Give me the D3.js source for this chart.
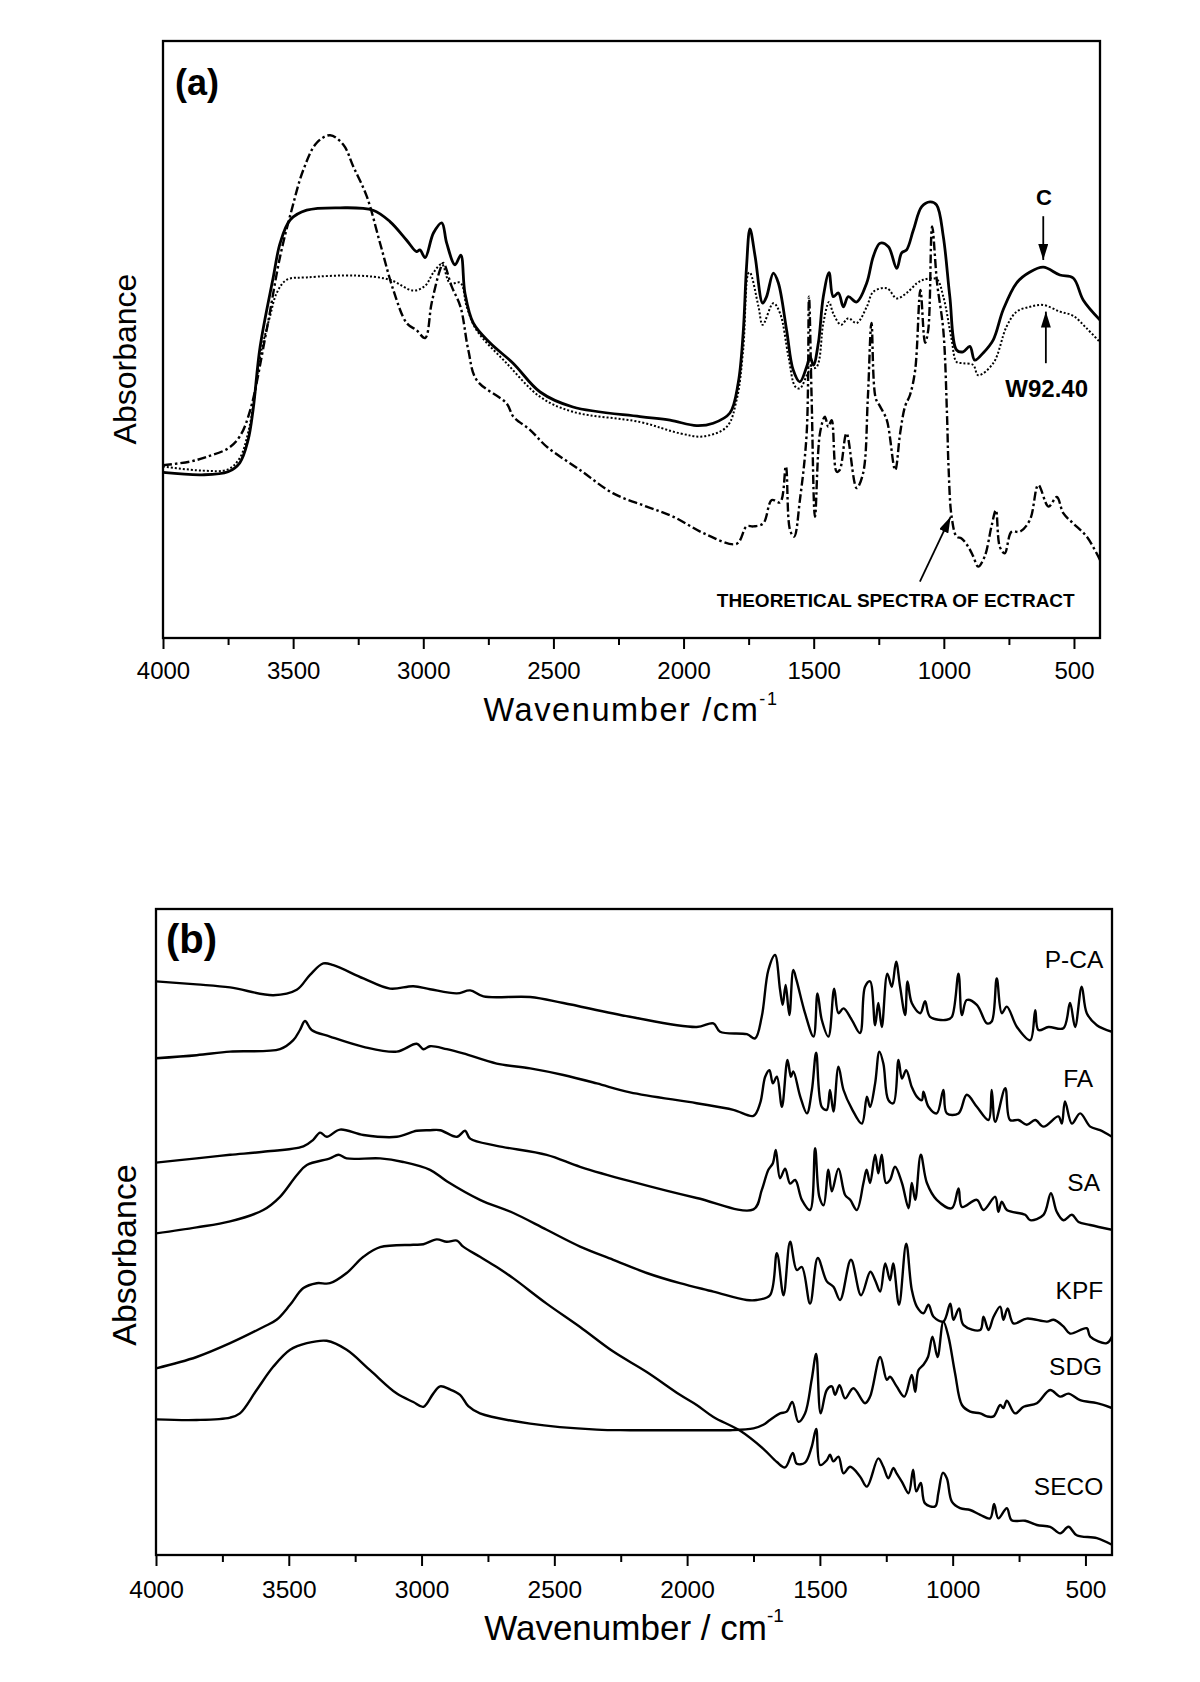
<!DOCTYPE html>
<html>
<head>
<meta charset="utf-8">
<script src="https://cdn.jsdelivr.net/npm/d3@7"></script>
<style>
  body { margin: 0; background: #fff; }
  svg { display: block; }
  text { font-family: Arial, "Liberation Sans", Helvetica, sans-serif; fill: #000; }
</style>
</head>
<body>
<svg id="chart" width="1200" height="1682"></svg>
<script>
// ---------- axis ticks ----------
const majorTicks = [4000, 3500, 3000, 2500, 2000, 1500, 1000, 500];
const minorTicks = [3750, 3250, 2750, 2250, 1750, 1250, 750];

// ---------- panel (a): [wavenumber, absorbance (a.u.)] ----------
const specC = [[4000,27.6],[3850,27.2],[3750,27.7],[3705,29.2],[3673,33],[3654,38],[3627,48.5],[3576,60.2],[3550,65.8],[3511,69.7],[3448,71.3],[3320,71.7],[3193,71.3],[3128,69.4],[3064,66.3],[3026,64.4],[3013,64.7],[2993,63.4],[2961,67.5],[2929,69.2],[2910,65.8],[2878,62.2],[2856,63.8],[2840,57.5],[2808,52.5],[2744,49.2],[2655,45.8],[2551,41],[2425,38.5],[2167,36.9],[2052,36.3],[1950,35.4],[1886,35.8],[1822,37.5],[1790,42.5],[1771,50.8],[1758,61.9],[1745,68.2],[1725,63.6],[1696,55.8],[1681,56.9],[1655,60.8],[1636,59.2],[1604,51.3],[1579,44.7],[1553,42.7],[1527,45.2],[1514,46.9],[1501,45.5],[1482,49.2],[1463,56.9],[1441,60.9],[1425,56.9],[1405,57.5],[1386,55.2],[1367,56.9],[1335,56],[1296,59.2],[1271,63.6],[1245,65.8],[1213,65.2],[1181,61.6],[1162,64.2],[1143,64.7],[1117,68],[1085,71.9],[1053,72.7],[1028,72.2],[1002,66.9],[977,56.9],[951,48],[926,47.7],[900,48.6],[881,46.3],[849,47.5],[810,49.7],[772,54.7],[720,59.2],[669,61],[618,61.8],[554,60.5],[503,60],[464,56.3],[400,53]];

const specW9240 = [[4000,28.6],[3850,27.9],[3750,28.1],[3705,30],[3673,34.2],[3650,39.7],[3627,46.9],[3589,53.6],[3563,57.5],[3525,59.7],[3448,60.1],[3256,60.4],[3128,59.7],[3038,57.9],[2993,58.7],[2961,60.9],[2929,62.3],[2897,59.1],[2857,59.2],[2833,55.2],[2795,51.3],[2680,45.8],[2551,40.2],[2425,37.7],[2167,36],[2013,34.1],[1924,33.6],[1834,35.2],[1796,39.7],[1771,48],[1751,60.8],[1745,60.9],[1712,55.2],[1696,52.2],[1655,55.8],[1629,54.1],[1597,46.9],[1571,41.9],[1553,41.6],[1514,44.7],[1488,45.2],[1463,52.5],[1441,56],[1425,54.1],[1395,52.2],[1367,53.3],[1335,52.5],[1296,55.2],[1271,57.7],[1219,58.3],[1181,56.6],[1143,57.5],[1104,59.1],[1079,59.7],[1028,59.8],[1002,56.9],[970,49.7],[951,46],[926,45.8],[887,45.5],[868,43.8],[810,45.8],[759,51.9],[720,54.4],[669,55.2],[618,55.5],[554,54.4],[503,53.7],[451,51.6],[400,49.3]];

const specTheo = [[4000,28.8],[3896,29.4],[3832,30.2],[3750,31.6],[3705,33.6],[3666,37.8],[3602,51.3],[3550,63.6],[3506,71.3],[3461,78],[3410,82.5],[3358,83.8],[3307,82.2],[3269,78.6],[3217,73.6],[3166,65.8],[3115,58],[3064,52.5],[3026,51.3],[2993,50],[2968,55.8],[2936,61.3],[2923,62.5],[2891,58.6],[2857,55.2],[2827,48],[2795,43],[2680,39.1],[2654,36.9],[2590,34.7],[2526,31.9],[2398,28],[2270,24.1],[2142,21.9],[2039,20.2],[1910,17.2],[1796,15.7],[1758,18.6],[1732,18.6],[1694,19.1],[1661,23],[1629,22.6],[1607,28.6],[1591,18],[1575,16.9],[1553,23],[1527,34.1],[1518,56.9],[1508,40],[1495,20.2],[1476,34.1],[1457,36.9],[1444,35.2],[1431,36.3],[1412,27.7],[1400,28],[1374,34.1],[1335,25],[1310,27.5],[1292,40],[1278,52.5],[1262,40],[1245,38.6],[1219,36.3],[1187,28],[1168,34.1],[1149,38.6],[1130,40.5],[1110,44.7],[1090,58],[1072,49.2],[1060,51.3],[1045,68.6],[1026,59.2],[1002,51.3],[988,37.5],[982,28.6],[970,20.2],[951,16.9],[932,16.6],[906,15.2],[887,13.6],[868,11.9],[843,13.6],[817,18.6],[800,21.3],[785,15.2],[766,14.1],[740,17.7],[708,17.7],[669,19.7],[637,25.5],[598,21.9],[566,23.5],[541,20.8],[503,19.1],[451,16.9],[400,13]];

// ---------- panel (b): [wavenumber, absorbance (a.u., offset)] ----------
const specPCA = [[4000,95.6],[3847,95.1],[3721,94.6],[3558,93.3],[3470,94.2],[3420,96.7],[3370,98.6],[3332,98.3],[3219,96.1],[3119,94.4],[3031,94.8],[2968,94.3],[2867,93.6],[2817,94.1],[2767,93.1],[2591,93],[2466,92],[2215,89.7],[1964,88],[1901,88.6],[1876,87.2],[1775,86.8],[1744,86.1],[1719,89.7],[1694,97.5],[1669,100],[1650,94.2],[1640,91.7],[1629,95],[1615,90],[1600,97.5],[1588,95.8],[1556,90.3],[1524,86.4],[1509,93.6],[1493,89.2],[1468,86.4],[1446,94.4],[1430,90.3],[1411,91.1],[1380,89.2],[1349,87],[1330,94.7],[1311,95.6],[1292,88.3],[1280,92],[1267,88],[1246,96.9],[1229,94.7],[1213,98.9],[1198,94.7],[1179,90],[1170,95.6],[1154,92],[1122,90.3],[1104,92.3],[1085,89.7],[1022,89.2],[1003,89.7],[978,96.9],[965,90],[947,92.5],[909,91.7],[871,88.6],[853,88.9],[834,96.1],[815,90.3],[796,91.4],[758,88],[708,85.8],[689,90.8],[677,87.5],[639,88],[583,87.8],[558,92],[539,88],[514,94.7],[495,90.3],[457,88.3],[400,87.2]];

const specFA = [[4000,82.8],[3847,83.3],[3721,83.9],[3533,84.3],[3483,85.8],[3458,87.5],[3439,89],[3414,87.5],[3345,86.4],[3219,84.7],[3093,83.9],[3018,85.2],[2993,84.3],[2968,84.8],[2905,84.3],[2843,83.6],[2717,81.9],[2591,81.1],[2466,80],[2340,78.6],[2215,77.1],[1964,75.3],[1826,74.2],[1750,73.2],[1725,75.3],[1706,79.7],[1690,80.8],[1677,78.6],[1662,79.7],[1643,74.7],[1622,82.5],[1609,79.7],[1600,80.6],[1574,76.4],[1549,73.6],[1530,77.5],[1514,83.7],[1493,74.7],[1474,74.2],[1462,77.5],[1449,73.9],[1430,81.4],[1411,77.5],[1380,74.4],[1342,71.9],[1323,76.4],[1311,74.7],[1292,78.6],[1276,83.9],[1261,81.9],[1242,75.8],[1223,75.3],[1204,82.5],[1191,79.4],[1175,80.8],[1154,78],[1135,76.4],[1116,75.8],[1110,77.2],[1091,74.7],[1060,73.6],[1035,77.5],[1022,73.6],[978,73.6],[947,76.7],[909,74.7],[865,72.5],[853,77.5],[840,72.2],[802,77.8],[784,72.5],[752,72.5],[721,71.7],[689,72.5],[658,71.4],[602,73.1],[589,71.9],[577,75.6],[551,71.9],[520,73.6],[482,71.4],[445,70.8],[400,69.7]];

const specSA = [[4000,65.4],[3847,66.1],[3721,66.7],[3596,67.2],[3445,68.1],[3408,69.2],[3382,70.4],[3357,69.7],[3307,70.9],[3219,70],[3093,69.7],[3018,70.7],[2968,70.8],[2930,70.8],[2867,69.7],[2836,70.7],[2817,69.4],[2717,68.2],[2529,66.7],[2403,64.7],[2215,62.3],[1964,59.5],[1750,57.6],[1719,60.8],[1694,64.2],[1677,65.3],[1666,67.5],[1650,62.8],[1631,64.4],[1612,61.9],[1593,62.5],[1568,59.2],[1537,57.5],[1518,67.8],[1502,59.7],[1486,58.3],[1468,64.2],[1455,60.6],[1430,64.4],[1405,60],[1386,59.2],[1361,57.5],[1336,62],[1324,64.2],[1311,62],[1292,66.7],[1280,63.6],[1267,66.7],[1251,62],[1236,62.5],[1217,64.7],[1191,62],[1166,57.8],[1154,62],[1141,59.2],[1120,66.7],[1097,62],[1060,59.2],[1003,57.8],[978,61.1],[965,58],[909,59.2],[884,57.5],[840,59.7],[828,57.2],[815,58.9],[796,57.5],[727,56.7],[708,55.8],[658,56.7],[630,60.3],[608,57.2],[583,55.8],[551,56.7],[526,55.5],[482,55],[400,54.2]];

const specKPF = [[4000,53.6],[3847,54.6],[3721,55.6],[3596,57.5],[3533,59.7],[3470,63.3],[3432,65],[3345,66.1],[3313,66.7],[3282,66.1],[3156,66.1],[3069,65.5],[2968,64.2],[2905,62.3],[2780,59.2],[2654,57],[2529,54.2],[2403,51.4],[2278,49.2],[2152,47],[2027,45.3],[1901,43.9],[1776,42.5],[1738,42.5],[1688,43.3],[1662,50.3],[1637,43.3],[1612,52.2],[1587,47.5],[1568,48],[1537,41.9],[1508,49.5],[1474,45.6],[1449,44.7],[1424,42.5],[1383,49.2],[1345,43.3],[1310,47.2],[1292,45.8],[1273,43.9],[1254,48.6],[1236,45.8],[1224,48.6],[1202,41.7],[1175,51.9],[1154,44.2],[1135,41.4],[1110,40.3],[1091,41.7],[1072,39.7],[1035,38.9],[1009,41.9],[997,39.2],[976,41.1],[959,38.3],[896,37.5],[884,39.7],[865,37.5],[846,39.7],[821,41.4],[809,39.2],[793,41.1],[771,38.6],[721,39.4],[645,38.9],[620,39.2],[583,38.1],[558,36.9],[495,37.8],[482,36.4],[420,35.3],[400,36.4]];

const specSDG = [[4000,22.6],[3847,22.5],[3721,22.9],[3684,23.6],[3621,27.5],[3558,31.4],[3495,34.2],[3432,35.3],[3357,35.7],[3282,34.2],[3194,30.8],[3093,26.9],[3031,25.5],[2993,24.7],[2956,26.9],[2930,28.1],[2893,27.6],[2855,26.7],[2824,24.8],[2780,23.6],[2591,21.9],[2340,20.9],[2215,20.8],[1901,20.8],[1838,20.8],[1750,21.1],[1713,21.7],[1688,22.5],[1650,23.6],[1625,23.9],[1604,25.5],[1581,22.2],[1556,23.6],[1531,29.2],[1514,33.5],[1497,23.6],[1474,27.5],[1455,28.1],[1443,26.7],[1426,28.3],[1405,26.1],[1374,27.8],[1330,25.3],[1311,26.4],[1273,33],[1248,29.2],[1236,29.7],[1211,28.1],[1182,26.4],[1154,30],[1141,27.2],[1129,30.8],[1110,31.7],[1093,33],[1076,36.4],[1057,33],[1035,38.9],[1016,36.4],[991,30.3],[965,25],[934,23.9],[896,23.6],[871,23.1],[846,23.1],[821,25],[809,24.5],[796,25.7],[765,23.6],[733,24.7],[683,25.3],[633,27.5],[595,26.4],[564,26.9],[520,25.8],[457,25.3],[400,24.5]];

const specSECO = [[4000,31.1],[3847,33],[3721,35.3],[3596,38],[3546,39.2],[3495,41.7],[3445,44.5],[3395,45.3],[3345,45.3],[3282,47],[3219,49.7],[3156,51.3],[3031,51.7],[2993,51.8],[2943,52.6],[2905,52.2],[2867,52.4],[2843,51.4],[2780,49.7],[2717,48],[2654,46.1],[2529,41.9],[2403,38],[2278,33.9],[2152,30.5],[2027,26.7],[1964,25],[1901,23],[1800,20.7],[1713,17.7],[1662,15.5],[1631,14.6],[1602,17],[1587,15.2],[1556,15.4],[1531,18],[1514,21],[1499,15],[1474,15.8],[1462,16.7],[1449,15.6],[1430,16.4],[1411,13.6],[1386,14.7],[1349,13.1],[1323,11.4],[1280,16.1],[1261,14.7],[1242,12.8],[1223,14.5],[1211,13.6],[1191,12.2],[1166,10.3],[1149,14.2],[1137,10.6],[1120,12],[1104,8.6],[1066,8.1],[1054,10.3],[1037,13.7],[1022,12.8],[1003,8.9],[972,7.8],[934,7.5],[896,6.7],[859,6.1],[844,8.5],[828,6.1],[796,7.8],[778,5.8],[727,5.7],[683,5],[633,4.7],[595,3.6],[564,4.7],[533,3.3],[457,2.8],[400,1.7]];

const labelsB = ["P-CA", "FA", "SA", "KPF", "SDG", "SECO"];
const labelYB = [97.8, 78.0, 60.7, 42.7, 30.0, 10.0];   // label baselines (a.u.)
const labelXB = [433, 471, 445, 433, 437, 433];        // right edge (cm-1)

// ---------- drawing ----------
const svg = d3.select("#chart");
const font = 'Arial, "Liberation Sans", Helvetica, sans-serif';

function panel(cfg) {
  const x = d3.scaleLinear().domain([4000, 400]).range([cfg.left, cfg.right]);
  const y = d3.scaleLinear().domain([0, (cfg.bottom - cfg.top) / 6]).range([cfg.bottom, cfg.top]);
  const g = svg.append("g");
  const clipId = "clip" + cfg.id;
  svg.append("clipPath").attr("id", clipId).append("rect")
    .attr("x", cfg.left).attr("y", cfg.top)
    .attr("width", cfg.right - cfg.left).attr("height", cfg.bottom - cfg.top);

  const ax = d3.axisBottom(x).tickValues(majorTicks).tickSize(11)
    .tickPadding(cfg.tickPad).tickFormat(d3.format("d"));
  const axG = g.append("g").attr("transform", `translate(0,${cfg.bottom})`).call(ax);
  axG.select(".domain").remove();
  axG.selectAll(".tick line").attr("stroke", "#000").attr("stroke-width", 2);
  axG.selectAll(".tick text").attr("font-family", font).attr("font-size", cfg.tickFont).attr("fill", "#000");
  const mG = g.append("g").attr("transform", `translate(0,${cfg.bottom})`)
    .call(d3.axisBottom(x).tickValues(minorTicks).tickSize(7).tickFormat(""));
  mG.select(".domain").remove();
  mG.selectAll(".tick line").attr("stroke", "#000").attr("stroke-width", 2);

  g.append("rect").attr("x", cfg.left).attr("y", cfg.top)
    .attr("width", cfg.right - cfg.left).attr("height", cfg.bottom - cfg.top)
    .attr("fill", "none").attr("stroke", "#000").attr("stroke-width", 2.3);

  const line = d3.line().x(d => x(d[0])).y(d => y(d[1])).curve(d3.curveCatmullRom.alpha(0.5));
  const lines = g.append("g").attr("clip-path", `url(#${clipId})`);
  return { x, y, g, line, lines };
}

// ===== panel (a) =====
const A = panel({ id: "a", left: 163, right: 1100, top: 41, bottom: 638, tickPad: 13, tickFont: 24 });
A.lines.append("path").datum(specTheo).attr("d", A.line)
  .attr("fill", "none").attr("stroke", "#000").attr("stroke-width", 2.4)
  .attr("stroke-dasharray", "9,3,2.5,3");
A.lines.append("path").datum(specW9240).attr("d", A.line)
  .attr("fill", "none").attr("stroke", "#000").attr("stroke-width", 2)
  .attr("stroke-dasharray", "2,2");
A.lines.append("path").datum(specC).attr("d", A.line)
  .attr("fill", "none").attr("stroke", "#000").attr("stroke-width", 2.8)
  .attr("stroke-linejoin", "round");

const defs = svg.append("defs");
defs.append("marker").attr("id", "arrow").attr("viewBox", "0 0 16 10")
  .attr("refX", 16).attr("refY", 5).attr("markerWidth", 16).attr("markerHeight", 10)
  .attr("markerUnits", "userSpaceOnUse").attr("orient", "auto")
  .append("path").attr("d", "M0,0 L16,5 L0,10 Z").attr("fill", "#000");

A.g.append("text").attr("x", 175).attr("y", 95).attr("font-size", 36)
  .attr("font-weight", "bold").attr("font-family", font).text("(a)");
A.g.append("text").attr("x", A.x(615)).attr("y", A.y(72.2)).attr("text-anchor", "middle")
  .attr("font-size", 22).attr("font-weight", "bold").attr("font-family", font).text("C");
A.g.append("line").attr("x1", A.x(618)).attr("x2", A.x(618)).attr("y1", A.y(70.3)).attr("y2", A.y(63))
  .attr("stroke", "#000").attr("stroke-width", 1.8).attr("marker-end", "url(#arrow)");
A.g.append("text").attr("x", A.x(605)).attr("y", A.y(40.2)).attr("text-anchor", "middle")
  .attr("font-size", 24).attr("font-weight", "bold").attr("font-family", font).text("W92.40");
A.g.append("line").attr("x1", A.x(608)).attr("x2", A.x(608)).attr("y1", A.y(45.8)).attr("y2", A.y(54.4))
  .attr("stroke", "#000").attr("stroke-width", 1.8).attr("marker-end", "url(#arrow)");
A.g.append("text").attr("x", A.x(1872)).attr("y", A.y(5.2))
  .attr("font-size", 19).attr("font-weight", "bold").attr("font-family", font)
  .text("THEORETICAL SPECTRA OF ECTRACT");
A.g.append("line").attr("x1", A.x(1092)).attr("y1", A.y(9.4)).attr("x2", A.x(974)).attr("y2", A.y(20.2))
  .attr("stroke", "#000").attr("stroke-width", 1.8).attr("marker-end", "url(#arrow)");

const tA = svg.append("text").attr("x", 631).attr("y", 721).attr("text-anchor", "middle")
  .attr("font-family", font).attr("font-size", 32.5).attr("letter-spacing", 1.6);
tA.append("tspan").text("Wavenumber /cm");
tA.append("tspan").attr("font-size", 18).attr("dy", -16).text("-1");
svg.append("text").attr("transform", "translate(136,359) rotate(-90)").attr("text-anchor", "middle")
  .attr("font-family", font).attr("font-size", 32).text("Absorbance");

// ===== panel (b) =====
const B = panel({ id: "b", left: 156, right: 1112, top: 909, bottom: 1555, tickPad: 15, tickFont: 24.5 });
[specPCA, specFA, specSA, specKPF, specSDG, specSECO].forEach(s => {
  B.lines.append("path").datum(s).attr("d", B.line)
    .attr("fill", "none").attr("stroke", "#000").attr("stroke-width", 2.4)
    .attr("stroke-linejoin", "round");
});
labelsB.forEach((t, i) => {
  B.g.append("text").attr("x", B.x(labelXB[i])).attr("y", B.y(labelYB[i]))
    .attr("text-anchor", "end").attr("font-family", font).attr("font-size", 24.5).text(t);
});
B.g.append("text").attr("x", 166).attr("y", 953).attr("font-size", 40)
  .attr("font-weight", "bold").attr("font-family", font).text("(b)");

const tB = svg.append("text").attr("x", 634).attr("y", 1640).attr("text-anchor", "middle")
  .attr("font-family", font).attr("font-size", 35);
tB.append("tspan").text("Wavenumber / cm");
tB.append("tspan").attr("font-size", 19).attr("dy", -18).text("-1");
svg.append("text").attr("transform", "translate(136,1255) rotate(-90)").attr("text-anchor", "middle")
  .attr("font-family", font).attr("font-size", 34).text("Absorbance");
</script>
</body>
</html>
